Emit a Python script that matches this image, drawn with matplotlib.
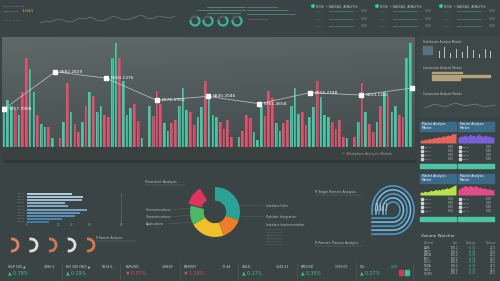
import numpy as np
import matplotlib.pyplot as plt
from matplotlib.patches import Rectangle, Arc, Circle
from matplotlib.colors import LinearSegmentedColormap

# ---- data ----
bar_vals = [39.7, 44.9, 39.7, 35.9, 30.8, 52.9, 85.3, 75.0, 52.9, 30.8,
            22.1, 18.9, 18.9, 8.7, 0.0, 8.7, 24.4, 61.2, 33.7, 22.1,
            14.1, 24.4, 39.7, 52.9, 49.0, 33.7, 39.7, 30.8, 28.8, 85.3,
            100.0, 85.3, 63.1, 31.1, 37.5, 41.7, 25.3, 8.7, 0.0, 39.7,
            29.5, 54.2, 41.0, 22.8, 15.4, 22.8, 25.6, 39.7, 56.4, 35.9,
            33.7, 20.8, 28.8, 38.5, 63.1, 50.3, 30.8, 28.8, 24.4, 17.6,
            26.3, 9.3, 0.0, 9.6, 15.4, 30.8, 27.6, 14.7, 7.1, 39.1,
            29.5, 54.2, 47.1, 22.8, 15.4, 22.8, 25.6, 39.7, 56.4, 31.7,
            33.7, 20.8, 28.8, 38.5, 63.1, 48.1, 30.8, 28.8, 24.4, 17.6,
            26.3, 9.3, 8.7, 0.0, 9.3, 24.4, 61.5, 33.7, 22.1, 14.1,
            24.4, 39.7, 52.9, 49.0, 33.7, 39.7, 30.8, 28.8, 85.3, 100.0]
bar_kind = list("TTTPTPPTTPTTPT-PTPTPPTPTPTTPPTTPTTTPPT-TPPPTTPPTTTPPTTPTTTPPPP-"
                "TPPPTTTPPPTTPPTTTPPTTPTTTPPPPT-PTPTPPTPTPTTPPTT")
line_x = [0, 13.7, 27.3, 41, 54.7, 68.4, 82, 95.7, 109.4]
line_y = [36.5, 72.4, 66.3, 44.8, 48.7, 41.6, 52.2, 50.0, 56.7]
line_labels = ["5767.3998", "6682.2829", "6650.1376", "6576.5952", "6840.2046",
               "6751.4658", "6604.7748", "5813.1282", ""]

hbar_vals = [45, 56, 55, 38, 41, 60, 53, 48, 35, 22]
gauge_span = [200, 210, 200, 205, 200]
gauge_col = ['#d9875a', '#e2ddd6', '#c97a50', '#e2ddd6', '#d47a4c']

donut_vals = [110, 50, 80, 45, 45, 30]
donut_cols = ['#2aa396', '#ee7d2a', '#f0c02c', '#4cb866', '#e0345f', 'none']

top_line = [5, 7, 6, 9, 8, 6, 7, 10, 9, 11, 8, 7, 9, 12, 10, 8, 9, 11, 13, 10, 9, 12, 11, 10, 12]
mini_a = [3, 4, 3.5, 5, 4, 5, 6, 5, 6, 7, 6.5, 7, 8, 7, 8.5, 9, 8, 9.5, 10, 9, 11, 12, 11, 13]
mini_b = [7, 8, 9, 8, 10, 9, 8, 10, 11, 9, 10, 8, 9, 11, 10, 9, 8, 10, 9, 8, 9, 8, 7, 8]
mini_c = [3, 4, 3, 5, 4, 4, 5, 6, 5, 6, 7, 6, 7, 6, 8, 7, 8, 9, 8, 9, 10, 11, 12, 13]
mini_d = [6, 8, 9, 10, 11, 12, 10, 11, 12, 11, 10, 12, 11, 9, 10, 9, 8, 9, 8, 7, 8, 7, 6, 7]
tick_bars = [6, 9, 4, 8, 5, 10, 7, 3, 8, 6]
beige_bars = [30, 58, 28]

tick_names = ["S&P 500 \u25b2", "NQ 100 (NQ) \u25b2", "EURUSD", "ENERGY", "GOLD", "BTCUSD", "OIL"]
tick_price = ["2380.2", "5613.6", "1.0839", "77.44", "1249.21", "1729.07", "0.00"]
tick_chg = ["\u25b2 0.78%", "\u25b2 0.29%", "\u25bc 0.07%", "\u25bc 1.28%", "\u25b2 0.17%", "\u25b2 0.35%", "\u25b2 0.27%"]
tick_up = [True, True, False, False, True, True, True]

vw_rows = ["AAPL", "MSFT", "AMZN", "INTC", "CSCO", "NVDA", "ORCL", "QCOM"]

BG = '#3b4444'
TEAL = '#4cc4a6'
PINK = '#d9546e'
TXT = '#b9c2c2'
GREEN = '#3dbf8a'
RED = '#d9455f'

fig = plt.figure(figsize=(5, 2.81), dpi=100, facecolor=BG)
ov = fig.add_axes([0, 0, 1, 1], zorder=0)
ov.set_xlim(0, 500)
ov.set_ylim(281, 0)
ov.axis('off')
ov.set_facecolor(BG)

def txt(x, y, s, size=2.6, color=TXT, **kw):
    ov.text(x, y, s, fontsize=size, color=color, va='center', **kw)

# ---- main bar chart ----
ov.add_patch(Rectangle((4, 158), 411, 4, color='#2f3636', zorder=0))  # shadow
ax = fig.add_axes([2 / 500, (281 - 160) / 281, 413 / 500, 123 / 281], zorder=2)
x0, x1, y0, y1 = -0.54, 110.2, -12.5, 105.8
grad = np.linspace(0, 1, 100)[:, None] * np.ones((1, 200))
grad = grad + 0.25 * np.linspace(1, 0, 200)[None, :]
ax.imshow(grad, extent=[x0, x1, 0, y1], origin='lower', aspect='auto',
          cmap=LinearSegmentedColormap.from_list('p', ['#434c4c', '#5f6968']), zorder=0)
ax.add_patch(Rectangle((x0, y0), x1 - x0, -y0, color='#394141', zorder=0))
xs = np.arange(len(bar_vals))
cols = [TEAL if k == 'T' else PINK for k in bar_kind]
ax.bar(xs, bar_vals, width=0.72, color=cols, zorder=2)
ax.bar(xs + 0.2, bar_vals, width=0.3, color='k', alpha=0.12, zorder=3)
ax.plot(line_x, line_y, color='#c9cfcf', lw=0.6, alpha=0.8, zorder=4)
ax.plot(line_x, line_y, 's', color='white', ms=3.2, zorder=5)
for lx, ly, lab in zip(line_x, line_y, line_labels):
    ax.text(lx + 1.3, ly, lab, fontsize=3.2, color='white', va='center', zorder=6)
ax.text(104, -7, "\u00a9 Workplace Analysis Module", fontsize=2.4, color='#9aa4a4',
        ha='right', va='center')
ax.set_xlim(x0, x1)
ax.set_ylim(y0, y1)
ax.axis('off')

# ---- top strip ----
txt(3, 6, "\u2014\u2014\u2014 \u2014\u2014 \u2014", 2.3)
txt(3, 11, "\u2014\u2014\u2014\u2014\u2014", 2.3)
txt(22, 11, "1.041", 3.2, '#d8b15a')
txt(3, 20, "\u2014\u2014\u2014  \u2014\u2014", 2.0, '#8a9494')
tl_x = np.linspace(40, 175, len(top_line))
ov.plot(tl_x, [28 - v for v in top_line], color='#8e9898', lw=0.4, alpha=0.8)
for yy, xa, xb in [(7, 207, 245), (10, 197, 245), (13, 207, 240)]:
    ov.plot([xa, xb], [yy, yy], color='#5fb8a0', lw=0.5, alpha=0.8)
for yy, xb in [(7, 277), (10, 288), (14, 295)]:
    ov.plot([247, xb], [yy, yy], color='#6fa9a0', lw=0.5, alpha=0.7)
for gx in [195, 208, 223, 237]:
    ov.add_patch(Arc((gx, 21), 9, 9, theta1=0, theta2=360, color='#556060', lw=1.5))
    ov.add_patch(Arc((gx, 21), 9, 9, theta1=-60, theta2=190, color='#33b5a0', lw=1.5))
txt(248, 19, "\u2014 \u2014\u2014\u2014\u2014\u2014\u2014", 2.0)
for tx in [313, 377, 441]:
    ov.add_patch(Circle((tx, 6), 1.3, color='#33c4a0'))
    ov.text(tx + 3, 6, "NYSE  \u2022 NASDAQ  ANALYSIS", fontsize=2.2, color=TXT, va='center')
    for ry in [11, 19, 26]:
        ov.text(tx + 3, ry, "\u2014\u2014", fontsize=2.2, color='#8e9898', va='center')
        ov.plot([tx + 16, tx + 40], [ry, ry], color='#5fb8a0', lw=0.4, alpha=0.7)
        ov.text(tx + 55, ry, "0.00", fontsize=2.2, color='#8e9898', va='center', ha='right')

# ---- right column top ----
ov.add_patch(Rectangle((417, 36), 83, 80, color='#3f4848', zorder=0))
txt(423, 42, "Distribution Analysis Module", 2.0)
ov.add_patch(Rectangle((423, 46), 9, 8, color='#5b7080'))
tb = fig.add_axes([436 / 500, 1 - 58 / 281, 58 / 500, 13 / 281])
tb.bar(range(len(tick_bars)), tick_bars, width=0.15, color='#b9c2c2')
tb.set_ylim(0, 11)
tb.axis('off')
txt(423, 68, "Comparison Analysis Module", 2.0)
for i, v in enumerate(beige_bars):
    ov.add_patch(Rectangle((432, 72 + i * 3.2), v, 1.4, color='#b4a27a'))
txt(423, 94, "Comparison Analysis Module", 2.0)
ov.plot(np.linspace(425, 495, 8), [108, 104, 107, 103, 106, 104, 107, 105],
        color='#8e9898', lw=0.4)

# ---- mini panels ----
def mini(xl, yt, data, col, hdr_y, rows_y, bar_y, title):
    ov.add_patch(Rectangle((xl, hdr_y), 36, 8.5, color='#3c6b8a', zorder=1))
    ov.text(xl + 1.5, hdr_y + 2.5, title, fontsize=2.2, color='white', va='center', zorder=2)
    ov.text(xl + 1.5, hdr_y + 6, "Market", fontsize=2.2, color='white', va='center', zorder=2)
    m = fig.add_axes([xl / 500, 1 - (yt + 12) / 281, 36 / 500, 12 / 281], zorder=3)
    m.fill_between(range(len(data)), data, color=col, lw=0)
    m.set_xlim(0, len(data) - 1)
    m.set_ylim(0, 15)
    m.axis('off')
    for j, ry in enumerate(rows_y):
        ov.add_patch(Rectangle((xl + 1, ry - 0.8), 1.6, 1.6, color='#cfd5d5', zorder=2))
        ov.text(xl + 4, ry, "\u2014\u2014\u2014", fontsize=2, color=TXT, va='center')
        ov.text(xl + 34, ry, "0.00", fontsize=2, color=TXT, va='center', ha='right')
    ov.add_patch(Rectangle((xl, bar_y), 36, 3.5, color=TEAL, zorder=2))

mini(420, 131, mini_a, '#e2645a', 122, [147, 151, 155, 159], 164, "Market Analysis")
mini(458, 131, mini_b, '#7a60d8', 122, [147, 151, 155, 159], 164, "Market Analysis")
mini(420, 183, mini_c, '#b8e24c', 174, [199, 203, 207, 211], 217, "Market Analysis")
mini(458, 183, mini_d, '#e24a88', 174, [199, 203, 207, 211], 217, "Market Analysis")

# ---- volume watcher ----
txt(421, 236, "Volume Watcher", 3.0, '#d6dcdc')
for cx, h, ha in zip([424, 458, 476, 496], ["Symbol", "Last", "Change", "Volume"],
                     ['left', 'right', 'right', 'right']):
    ov.text(cx, 243, h, fontsize=2, color='#8e9898', va='center', ha=ha)
for j, name in enumerate(vw_rows):
    ry = 248 + j * 3.6
    ov.text(424, ry, name, fontsize=2, color=TXT, va='center')
    ov.text(458, ry, "100.2", fontsize=2, color=TXT, va='center', ha='right')
    ov.text(476, ry, "+1.34", fontsize=2, color=GREEN, va='center', ha='right')
    ov.text(496, ry, "22.5", fontsize=2, color=TXT, va='center', ha='right')

# ---- horizontal bar chart ----
hb = fig.add_axes([27 / 500, 1 - 224 / 281, 94 / 500, 32 / 281])
blues = LinearSegmentedColormap.from_list('b', ['#b4cbd9', '#3f78a6'])(
    np.linspace(0, 1, len(hbar_vals)))
hb.barh(range(len(hbar_vals)), hbar_vals, height=0.6, color=blues)
hb.set_xlim(0, 94)
hb.set_ylim(len(hbar_vals) - 0.4, -0.6)
hb.axis('off')
for j in range(len(hbar_vals)):
    ov.text(25, 193.5 + j * 3.1, "\u2014\u2014\u2014", fontsize=2, color='#8e9898',
            va='center', ha='right')
ov.plot([121, 121], [193, 223], color='#6a7474', lw=0.4)
for tx, lab in zip([27, 58, 72, 89, 121], ["0", "20", "40", "60", "80"]):
    ov.text(tx, 225.5, lab, fontsize=2, color='#8e9898', va='center', ha='center')

# ---- gauges ----
for gx, sp, gc in zip([12, 31, 50, 69, 88], gauge_span, gauge_col):
    ov.add_patch(Arc((gx, 245), 12, 12, theta1=-sp / 2, theta2=sp / 2, color=gc, lw=2.0))
txt(96, 238, "R Remote Analysis", 2.1)
ov.plot([96, 136], [241, 241], color='#6a7474', lw=0.3)

# ---- donut ----
ov.text(145, 182, "Persistent Analysis", fontsize=2.4, color=TXT, va='center')
ov.plot([145, 185], [185, 185], color='#6a7474', lw=0.3)
dn = fig.add_axes([(215 - 30) / 500, (281 - 212 - 30) / 281, 60 / 500, 60 / 281], zorder=2)
wedges, _ = dn.pie(donut_vals, colors=donut_cols, startangle=90, counterclock=False,
                   radius=1.0, explode=[0, 0, 0, 0, 0.12, 0],
                   wedgeprops=dict(width=0.55, lw=0))
wedges[-1].set_visible(False)
dn.set_xlim(-1.2, 1.2)
dn.set_ylim(-1.2, 1.2)
dn.axis('off')
for yy, lab in [(210, "Communications"), (217, "Communications"), (224, "Applications")]:
    ov.text(146, yy, lab, fontsize=2.2, color=TXT, va='center')
    ov.plot([168, 192], [yy, yy - 2], color='#5e6868', lw=0.3)
for yy, lab in [(206, "Interface Units"), (217, "Outsider Integration")]:
    ov.text(266, yy, lab, fontsize=2.2, color=TXT, va='center')
    ov.plot([240, 264], [yy - 1, yy], color='#5e6868', lw=0.3)
ov.text(266, 225, "Interface Implementation", fontsize=2.2, color=TXT, va='center')
for k in range(6):
    ov.text(266, 229 + k * 3, "\u2014\u2014\u2014\u2014\u2014\u2014\u2014", fontsize=1.8,
            color='#7e8888', va='center')

# ---- concentric arcs ----
ov.text(315, 192, "R Single Remote Analysis", fontsize=2.3, color=TXT, va='center')
ov.plot([315, 362], [195, 195], color='#6a7474', lw=0.3)
ov.text(315, 243, "R Remote Process Analysis", fontsize=2.3, color=TXT, va='center')
ov.plot([315, 362], [246, 246], color='#6a7474', lw=0.3)
for k, r in enumerate([7, 10.5, 14, 17.5, 21]):
    th = np.radians(np.linspace(180, -90, 60))
    ax_x = 393 + r * np.cos(th)
    ax_y = 210 - r * 1.15 * np.sin(th)
    c = '#4a9fd4' if k % 2 == 0 else '#7cc0ea'
    ov.plot(list(ax_x) + [372], list(ax_y) + [ax_y[-1]], color=c, lw=1.1)
    ov.plot([393 - r, 393 - r], [210, 214], color=c, lw=1.1)
for bx in [377, 380, 383, 386]:
    ov.plot([bx, bx], [203, 210], color='#aab4b4', lw=0.7)

# ---- bottom ticker ----
for sx in [62, 120, 180, 238, 297, 356, 413]:
    ov.plot([sx, sx], [263, 280], color='#566060', lw=0.4)
tick_left = [8, 66, 126, 184, 242, 301, 360]
for i, (nm, pr, ch, up) in enumerate(zip(tick_names, tick_price, tick_chg, tick_up)):
    xl = tick_left[i]
    ov.text(xl, 266.5, nm, fontsize=2.3, color='#d0d6d6', va='center')
    pc = GREEN if i == 6 else '#d0d6d6'
    ov.text(xl + 47 if i < 6 else 398, 266.5, pr, fontsize=2.3, color=pc, va='center',
            ha='right')
    ov.text(xl, 273, ch, fontsize=3.4, color=GREEN if up else RED, va='center')
ov.add_patch(Rectangle((399, 270), 4, 5, color='#d33a5a'))
ov.add_patch(Rectangle((405, 270), 4, 5, color='#3dbf8a'))

fig.savefig('out.png', dpi=100, facecolor=BG)
